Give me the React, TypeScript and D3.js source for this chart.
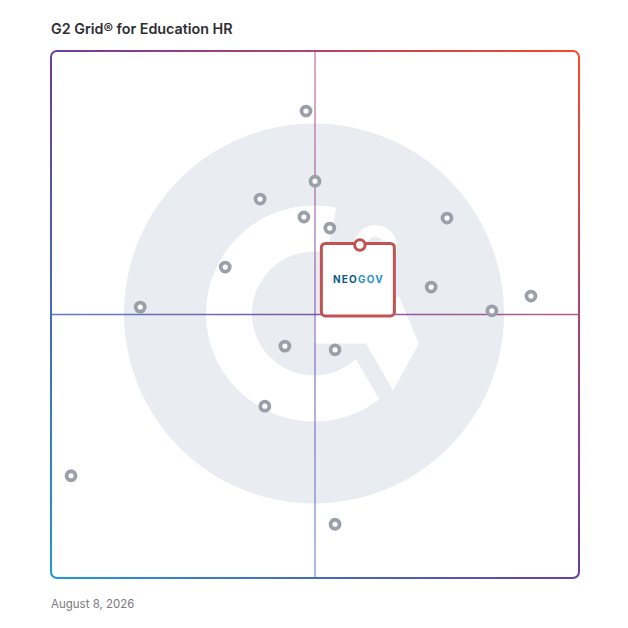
import { useEffect, useRef } from "react";
import * as d3 from "d3";

// Vendors on the grid: market presence (x) and satisfaction (y), 0-100
const vendors = [
  "V1", "V2", "V3", "V4", "V5", "V6", "V7", "V8",
  "V9", "V10", "V11", "V12", "V13", "V14", "V15", "V16",
];
const presence = [48.3, 50.0, 39.6, 47.9, 52.8, 75.0, 33.0, 72.0, 90.9, 83.5, 16.9, 44.3, 53.8, 40.5, 3.8, 53.8];
const satisfaction = [88.6, 75.3, 71.9, 68.5, 66.4, 68.3, 59.0, 55.2, 53.5, 50.7, 51.4, 44.0, 43.3, 32.6, 19.4, 10.2];

const highlightName = "NEOGOV";
const highlightPresence = 58.5;
const highlightSatisfaction = 63.2;

const title = "G2 Grid\u00ae for Education HR";
const dateLabel = "August 8, 2026";

const W = 628;
const H = 628;
const FRAME = { left: 51, top: 51, right: 579, bottom: 578 };

export default function App() {
  const svgRef = useRef<SVGSVGElement>(null);

  useEffect(() => {
    if (!svgRef.current) return;
    const svg = d3.select(svgRef.current);
    svg.selectAll("*").remove();

    const x = d3.scaleLinear().domain([0, 100]).range([FRAME.left, FRAME.right]);
    const y = d3.scaleLinear().domain([0, 100]).range([FRAME.bottom, FRAME.top]);

    const defs = svg.append("defs");

    // Frame gradient: blue bottom-left -> purple -> orange top-right
    const grad = defs
      .append("linearGradient")
      .attr("id", "frameGrad")
      .attr("gradientUnits", "userSpaceOnUse")
      .attr("x1", FRAME.left)
      .attr("y1", FRAME.bottom + 20)
      .attr("x2", FRAME.right)
      .attr("y2", FRAME.top - 20);
    grad.append("stop").attr("offset", "0").attr("stop-color", "#1d9bdb");
    grad.append("stop").attr("offset", "0.5").attr("stop-color", "#6a3ca8");
    grad.append("stop").attr("offset", "1").attr("stop-color", "#ff4a22");

    // Watermark logo
    const cx = x(50) - 1;
    const cy = y(50) - 1;
    const wm = svg.append("g");
    wm.append("circle").attr("cx", cx).attr("cy", cy).attr("r", 190).attr("fill", "#e9ecf0");

    // clip for the G arc (gap at upper right, cut by a 60deg line at lower right)
    const rad = (12 * Math.PI) / 180;
    const clip = defs.append("clipPath").attr("id", "gClip");
    const lp = [cx + 44, cy + 49];
    const dir = [0.5, 0.866];
    clip
      .append("path")
      .attr(
        "d",
        `M${cx},${cy} L${cx + 220 * Math.sin(rad)},${cy - 220 * Math.cos(rad)} L${cx - 250},${cy - 250} L${cx - 250},${cy + 250} L${lp[0] + 160 * dir[0]},${lp[1] + 160 * dir[1]} L${lp[0] - 60 * dir[0]},${lp[1] - 60 * dir[1]} Z`
      );

    const ring = d3.arc()({
      innerRadius: 62,
      outerRadius: 108,
      startAngle: 0,
      endAngle: 2 * Math.PI,
    } as any) as string;
    wm.append("g")
      .attr("clip-path", "url(#gClip)")
      .append("path")
      .attr("d", ring)
      .attr("transform", `translate(${cx},${cy})`)
      .attr("fill", "#ffffff");

    // crossbar + chevron
    const chevron: [number, number][] = [
      [cx, cy + 1],
      [cx + 85, cy - 17],
      [cx + 105, cy + 30],
      [cx + 79, cy + 77],
      [cx + 52, cy + 30],
      [cx, cy + 30],
    ];
    wm.append("path")
      .attr("d", d3.line()(chevron) + "Z")
      .attr("fill", "#ffffff");

    // superscript 2
    wm.append("path")
      .attr(
        "d",
        `M${cx + 46},${cy - 70} A15 15 0 1 1 ${cx + 77},${cy - 63} L${cx + 45},${cy - 25}`
      )
      .attr("fill", "none")
      .attr("stroke", "#ffffff")
      .attr("stroke-width", 12);

    // Quadrant lines
    svg
      .append("line")
      .attr("x1", FRAME.left)
      .attr("x2", FRAME.right)
      .attr("y1", y(50))
      .attr("y2", y(50))
      .attr("stroke", "url(#frameGrad)")
      .attr("stroke-width", 1.5)
      .attr("opacity", 0.85);
    svg
      .append("line")
      .attr("x1", x(50))
      .attr("x2", x(50))
      .attr("y1", FRAME.top)
      .attr("y2", FRAME.bottom)
      .attr("stroke", "url(#frameGrad)")
      .attr("stroke-width", 1.5)
      .attr("opacity", 0.6);

    // Frame
    svg
      .append("rect")
      .attr("x", FRAME.left)
      .attr("y", FRAME.top)
      .attr("width", FRAME.right - FRAME.left)
      .attr("height", FRAME.bottom - FRAME.top)
      .attr("rx", 6)
      .attr("fill", "none")
      .attr("stroke", "url(#frameGrad)")
      .attr("stroke-width", 2);

    // Vendor points
    svg
      .append("g")
      .selectAll("circle")
      .data(vendors)
      .join("circle")
      .attr("cx", (_, i) => x(presence[i]))
      .attr("cy", (_, i) => y(satisfaction[i]))
      .attr("r", 4.5)
      .attr("fill", "#ffffff")
      .attr("stroke", "#9a9faa")
      .attr("stroke-width", 3.8);

    // Highlighted vendor card
    const hx = x(highlightPresence);
    const hy = y(highlightSatisfaction);
    const card = svg.append("g");
    card
      .append("rect")
      .attr("x", hx - 38.5)
      .attr("y", hy - 1.5)
      .attr("width", 73)
      .attr("height", 72.5)
      .attr("rx", 4)
      .attr("fill", "#ffffff")
      .attr("stroke", "#c25353")
      .attr("stroke-width", 3);
    const label = card
      .append("text")
      .attr("x", hx - 1.5)
      .attr("y", hy + 38.5)
      .attr("text-anchor", "middle")
      .attr("font-family", "Inter, 'DejaVu Sans', sans-serif")
      .attr("font-weight", 700)
      .attr("font-size", "10px")
      .attr("letter-spacing", "1.2px");
    label.append("tspan").attr("fill", "#0b5a82").text(highlightName.slice(0, 3));
    label.append("tspan").attr("fill", "#2994bf").text(highlightName.slice(3));
    card
      .append("circle")
      .attr("cx", hx)
      .attr("cy", hy)
      .attr("r", 5.2)
      .attr("fill", "#ffffff")
      .attr("stroke", "#c25353")
      .attr("stroke-width", 3);

    // Title and date
    svg
      .append("text")
      .attr("x", FRAME.left)
      .attr("y", 34)
      .attr("font-family", "Inter, 'DejaVu Sans', sans-serif")
      .attr("font-weight", 600)
      .attr("font-size", "14.3px")
      .attr("fill", "#2e2e33")
      .text(title);
    svg
      .append("text")
      .attr("x", FRAME.left)
      .attr("y", 608)
      .attr("font-family", "Inter, 'DejaVu Sans', sans-serif")
      .attr("font-size", "11.5px")
      .attr("fill", "#7a7a80")
      .text(dateLabel);
  }, []);

  return (
    <svg
      ref={svgRef}
      width={W}
      height={H}
      style={{ position: "absolute", left: 0, top: 0, background: "#ffffff" }}
    />
  );
}
